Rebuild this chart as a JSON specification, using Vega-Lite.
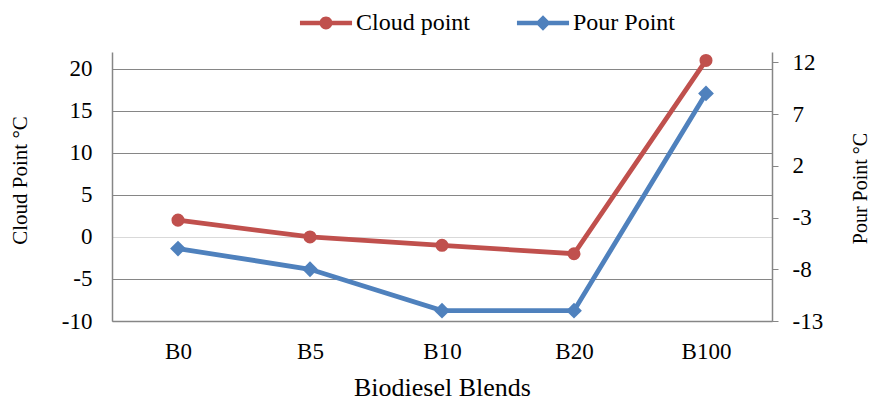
{
  "$schema": "https://vega.github.io/schema/vega-lite/v6.json",
  "width": 660,
  "height": 269,
  "autosize": {"type": "none"},
  "padding": {"left": 112, "top": 52, "right": 99, "bottom": 80},
  "background": "white",
  "config": {
    "view": {"stroke": null},
    "font": "Liberation Serif",
    "axis": {"labelFont": "Liberation Serif", "titleFont": "Liberation Serif", "labelColor": "#000", "titleColor": "#000", "titleFontWeight": "normal", "domainColor": "#868686", "tickColor": "#868686"},
    "legend": {"labelFont": "Liberation Serif", "labelColor": "#000"}
  },
  "data": {
    "values": [
      {"blend": "B0", "series": "Cloud point", "value": 2},
      {"blend": "B5", "series": "Cloud point", "value": 0},
      {"blend": "B10", "series": "Cloud point", "value": -1},
      {"blend": "B20", "series": "Cloud point", "value": -2},
      {"blend": "B100", "series": "Cloud point", "value": 21},
      {"blend": "B0", "series": "Pour Point", "value": -6},
      {"blend": "B5", "series": "Pour Point", "value": -8},
      {"blend": "B10", "series": "Pour Point", "value": -12},
      {"blend": "B20", "series": "Pour Point", "value": -12},
      {"blend": "B100", "series": "Pour Point", "value": 9}
    ]
  },
  "encoding": {
    "x": {
      "field": "blend", "type": "nominal", "sort": ["B0", "B5", "B10", "B20", "B100"],
      "scale": {"paddingInner": 0, "paddingOuter": 0},
      "axis": {"title": "Biodiesel Blends", "labelAngle": 0, "labelFontSize": 23, "titleFontSize": 26, "labelPadding": 19, "titlePadding": 11, "ticks": false, "domainWidth": 1.5, "grid": false}
    },
    "color": {
      "field": "series", "type": "nominal",
      "scale": {"domain": ["Cloud point", "Pour Point"], "range": ["#C0504D", "#4F81BD"]},
      "legend": {
        "title": null, "orient": "none", "direction": "horizontal", "legendX": 202, "legendY": -41,
        "labelFontSize": 24, "symbolSize": 576, "labelOffset": 18, "columnPadding": 45,
        "encode": {
          "symbols": {
            "update": {
              "shape": {"signal": "datum.value === 'Cloud point' ? 'M-2.17,-0.19 L2.17,-0.19 L2.17,0.19 L-2.17,0.19 Z M0.54,0 A0.54,0.54 0 1,1 -0.54,0 A0.54,0.54 0 1,1 0.54,0 Z' : 'M-2.17,-0.19 L2.17,-0.19 L2.17,0.19 L-2.17,0.19 Z M0,-0.64 L0.64,0 L0,0.64 L-0.64,0 Z'"},
              "size": {"value": 576},
              "fill": {"signal": "datum.value === 'Cloud point' ? '#C0504D' : '#4F81BD'"},
              "strokeWidth": {"value": 0},
              "opacity": {"value": 1},
              "fillOpacity": {"value": 1}
            }
          }
        }
      }
    }
  },
  "layer": [
    {
      "transform": [{"filter": "datum.series === 'Cloud point'"}],
      "encoding": {
        "y": {
          "field": "value", "type": "quantitative",
          "scale": {"domain": [-10, 22], "nice": false, "zero": false},
          "axis": {"orient": "left", "title": "Cloud Point °C", "values": [-10, -5, 0, 5, 10, 15, 20], "labelExpr": "datum.value < 0 ? '-' + abs(datum.value) : '' + datum.value", "labelFontSize": 23, "titleFontSize": 21, "labelPadding": 20, "titleX": -92, "titleY": 128, "titleAlign": "center", "titleBaseline": "middle", "titleAngle": 270, "ticks": false, "domainWidth": 1.5, "grid": true, "gridColor": {"condition": {"test": "datum.value === 0", "value": "#d9d9d9"}, "value": "#868686"}, "gridWidth": 1.2}
        }
      },
      "layer": [
        {"mark": {"type": "line", "strokeWidth": 4.8}},
        {"mark": {"type": "point", "shape": "circle", "filled": true, "size": 170, "opacity": 1}}
      ]
    },
    {
      "transform": [{"filter": "datum.series === 'Pour Point'"}],
      "encoding": {
        "y": {
          "field": "value", "type": "quantitative",
          "scale": {"domain": [-13, 13], "nice": false, "zero": false},
          "axis": {"orient": "right", "title": "Pour Point °C", "titleX": 88, "titleY": 136, "titleAlign": "center", "titleBaseline": "middle", "titleAngle": 270, "values": [-13, -8, -3, 2, 7, 12], "labelExpr": "datum.value < 0 ? '-' + abs(datum.value) : '' + datum.value", "labelFontSize": 23, "titleFontSize": 20, "labelPadding": 14, "ticks": true, "tickSize": 6, "domainWidth": 1.5, "grid": false}
        }
      },
      "layer": [
        {"mark": {"type": "line", "strokeWidth": 4.8}},
        {"mark": {"type": "point", "shape": "diamond", "filled": true, "size": 250, "opacity": 1}}
      ]
    }
  ],
  "resolve": {"scale": {"y": "independent"}}
}
